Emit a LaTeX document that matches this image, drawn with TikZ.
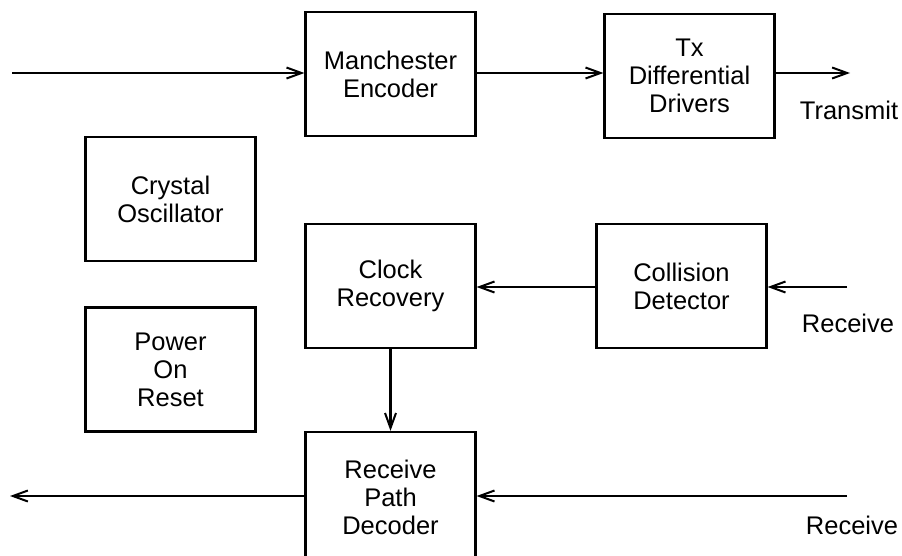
\documentclass[tikz,border=0pt]{standalone}
\usepackage{fontspec}
\setmainfont{Liberation Sans}
\usepackage{tikz}
\usetikzlibrary{arrows.meta}

\begin{document}
\begin{tikzpicture}[x=1pt,y=-1pt,font=\fontsize{25.5}{28}\selectfont,
  blk/.style={draw,line width=2.2pt,align=center,minimum width=170pt,minimum height=124pt,inner sep=0pt},
  arr/.style={-{Straight Barb[length=15pt,width=11pt,line width=2pt]},line width=2.2pt}]
  \useasboundingbox (0,0) rectangle (902,555);
  \node[blk] (enc) at (390.5,74) {Manchester\\Encoder};
  \node[blk] (txd) at (689.5,76) {Tx\\Differential\\Drivers};
  \node[blk] (xtal) at (170.5,199) {Crystal\\Oscillator};
  \node[blk] (clk) at (390.5,286) {Clock\\Recovery};
  \node[blk] (col) at (681.5,286) {Collision\\Detector};
  \node[blk] (por) at (170.5,369.5) {Power\\On\\Reset};
  \node[blk,minimum height=130pt] (dec) at (390.5,497) {Receive\\Path\\Decoder};
  \node (txlbl) at (849,110) {Transmit};
  \node (rxlbl1) at (848,323) {Receive};
  \node (rxlbl2) at (852,525) {Receive};
  \coordinate (txin) at (12,73);
  \coordinate (txout) at (850,73);
  \coordinate (rxin1) at (847,287);
  \coordinate (rxin2) at (847,496);
  \coordinate (rxout) at (10,496);
  \draw[arr] (txin) -- (enc.west |- txin);
  \draw[arr] (enc.east |- txin) -- (txd.west |- txin);
  \draw[arr] (txd.east |- txout) -- (txout);
  \draw[arr] (rxin1) -- (col.east |- rxin1);
  \draw[arr] (col.west |- rxin1) -- (clk.east |- rxin1);
  \draw[arr] (clk.south) -- (dec.north);
  \draw[arr] (rxin2) -- (dec.east |- rxin2);
  \draw[arr] (dec.west |- rxout) -- (rxout);
\end{tikzpicture}
\end{document}
